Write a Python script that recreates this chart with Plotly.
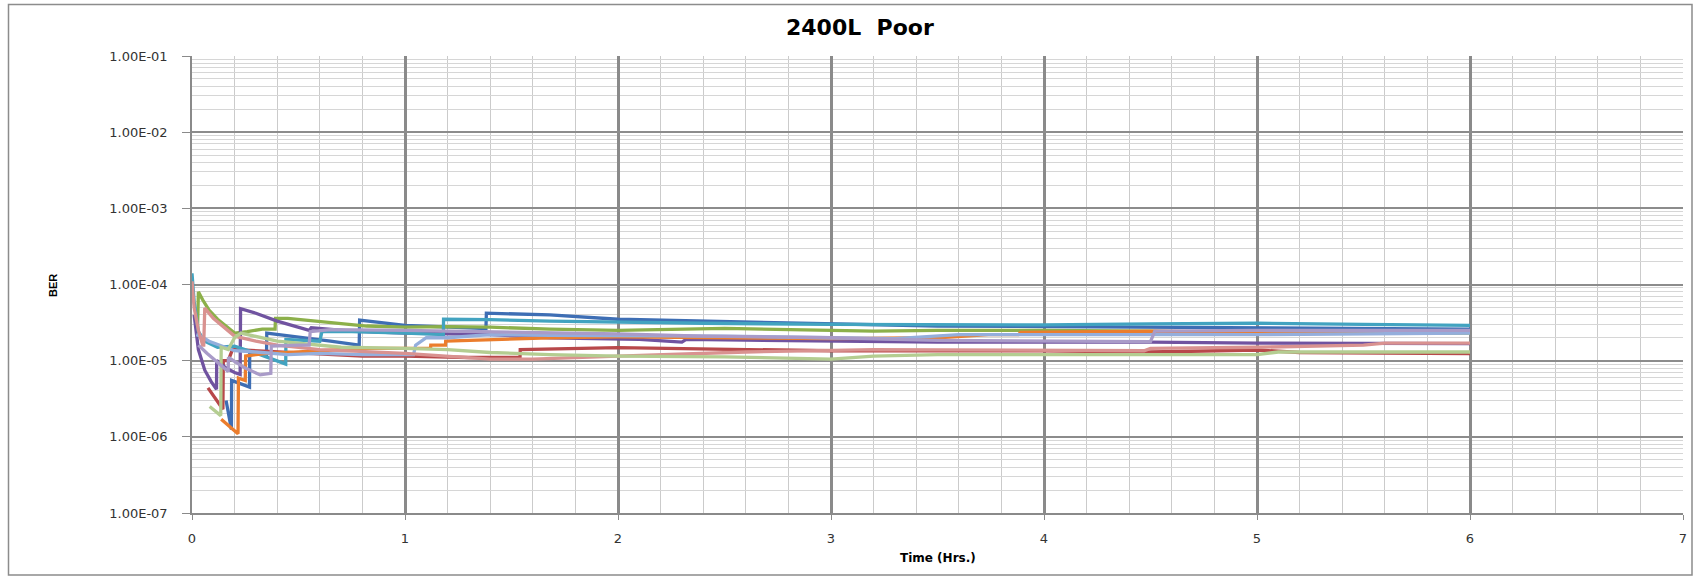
import plotly.graph_objects as go

# ---------------- data ----------------
title_text = "2400L\u00a0 Poor"
x_title = "Time (Hrs.)"
y_title = "BER"
y_tick_vals = [1e-7, 1e-6, 1e-5, 1e-4, 1e-3, 1e-2, 1e-1]
y_tick_text = ["1.00E-07", "1.00E-06", "1.00E-05", "1.00E-04", "1.00E-03", "1.00E-02", "1.00E-01"]
x_tick_vals = [0, 1, 2, 3, 4, 5, 6, 7]

blue_t = [0.16, 0.185, 0.186, 0.2, 0.27, 0.271, 0.35, 0.351, 0.5, 0.65, 0.785, 0.787, 1.0, 1.2, 1.38, 1.382, 1.5, 1.68, 2.0, 2.4, 3.0, 3.5, 4.0, 4.5, 5.0, 5.5, 6.0]
blue_ber = [3.0e-6, 1.25e-6, 5.5e-6, 5.3e-6, 4.5e-6, 1.25e-5, 1.2e-5, 2.3e-5, 2.05e-5, 1.8e-5, 1.6e-5, 3.4e-5, 2.9e-5, 2.8e-5, 2.65e-5, 4.2e-5, 4.1e-5, 4.0e-5, 3.5e-5, 3.3e-5, 3.0e-5, 2.85e-5, 2.8e-5, 2.75e-5, 2.7e-5, 2.65e-5, 2.6e-5]

red_t = [0.075, 0.12, 0.145, 0.147, 0.17, 0.19, 0.3, 0.5, 0.8, 1.0, 1.3, 1.54, 1.541, 2.0, 2.5, 3.0, 4.0, 4.5, 5.0, 5.2, 6.0]
red_ber = [4.4e-6, 2.9e-6, 2.3e-6, 1.0e-5, 1.0e-5, 1.4e-5, 1.35e-5, 1.25e-5, 1.15e-5, 1.15e-5, 1.1e-5, 1.1e-5, 1.4e-5, 1.48e-5, 1.4e-5, 1.35e-5, 1.35e-5, 1.3e-5, 1.38e-5, 1.28e-5, 1.24e-5]

green_t = [0.025, 0.03, 0.05, 0.08, 0.12, 0.2, 0.26, 0.33, 0.39, 0.392, 0.45, 0.55, 0.65, 0.82, 1.0, 1.2, 1.4, 1.68, 2.0, 2.5, 3.2, 3.5, 4.0, 4.5, 5.0, 6.0]
green_ber = [2.0e-5, 8.0e-5, 6.3e-5, 4.6e-5, 3.5e-5, 2.3e-5, 2.4e-5, 2.6e-5, 2.6e-5, 3.6e-5, 3.6e-5, 3.4e-5, 3.2e-5, 2.85e-5, 2.75e-5, 2.8e-5, 2.75e-5, 2.6e-5, 2.5e-5, 2.65e-5, 2.45e-5, 2.5e-5, 2.5e-5, 2.45e-5, 2.3e-5, 2.3e-5]

purple_t = [0.01, 0.03, 0.06, 0.09, 0.115, 0.116, 0.16, 0.2, 0.226, 0.228, 0.3, 0.4, 0.55, 0.56, 0.75, 1.0, 1.4, 1.68, 2.1, 2.3, 2.32, 3.0, 3.5, 4.0, 4.5, 5.0, 6.0]
purple_ber = [4.0e-5, 1.4e-5, 7.5e-6, 5.3e-6, 4.2e-6, 1.0e-5, 8.0e-6, 7.0e-6, 6.6e-6, 4.8e-5, 4.2e-5, 3.3e-5, 2.5e-5, 2.7e-5, 2.45e-5, 2.3e-5, 2.2e-5, 2.0e-5, 1.9e-5, 1.75e-5, 1.9e-5, 1.8e-5, 1.75e-5, 1.75e-5, 1.75e-5, 1.7e-5, 1.67e-5]

teal_t = [0.0, 0.01, 0.03, 0.06, 0.12, 0.2, 0.32, 0.44, 0.441, 0.6, 0.61, 0.75, 1.0, 1.18, 1.181, 1.4, 1.68, 2.0, 2.4, 3.0, 3.5, 4.0, 4.5, 5.0, 5.5, 6.0]
teal_ber = [1.4e-4, 6.0e-5, 2.4e-5, 1.8e-5, 1.5e-5, 1.55e-5, 1.2e-5, 9.0e-6, 1.9e-5, 1.8e-5, 2.4e-5, 2.4e-5, 2.3e-5, 2.2e-5, 3.5e-5, 3.45e-5, 3.3e-5, 3.2e-5, 3.1e-5, 3.0e-5, 2.95e-5, 2.95e-5, 3.05e-5, 3.1e-5, 3.0e-5, 2.9e-5]

orange_t = [0.137, 0.216, 0.218, 0.25, 0.252, 0.35, 0.5, 0.8, 1.0, 1.12, 1.121, 1.19, 1.191, 1.4, 1.68, 2.0, 2.5, 3.0, 3.5, 3.74, 3.88, 3.89, 4.5, 5.0, 5.5, 6.0]
orange_ber = [1.7e-6, 1.1e-6, 5.9e-6, 5.5e-6, 1.15e-5, 1.25e-5, 1.3e-5, 1.45e-5, 1.45e-5, 1.45e-5, 1.6e-5, 1.6e-5, 1.8e-5, 1.9e-5, 2.0e-5, 2.05e-5, 2.0e-5, 1.95e-5, 2.0e-5, 2.2e-5, 2.2e-5, 2.35e-5, 2.45e-5, 2.35e-5, 2.4e-5, 2.45e-5]

ltblue_t = [0.02, 0.04, 0.08, 0.13, 0.2, 0.3, 0.45, 0.6, 0.8, 1.0, 1.04, 1.05, 1.1, 1.2, 1.4, 1.68, 2.0, 2.5, 3.0, 3.3, 3.6, 4.5, 5.0, 6.0]
ltblue_ber = [2.2e-5, 2.1e-5, 1.8e-5, 1.6e-5, 1.35e-5, 1.3e-5, 1.2e-5, 1.25e-5, 1.2e-5, 1.2e-5, 1.2e-5, 1.6e-5, 2.0e-5, 2.0e-5, 2.2e-5, 2.15e-5, 2.15e-5, 2.1e-5, 2.0e-5, 1.95e-5, 2.2e-5, 2.2e-5, 2.2e-5, 2.3e-5]

pink_t = [0.0, 0.01, 0.03, 0.05, 0.055, 0.06, 0.1, 0.2, 0.3, 0.4, 0.6, 1.0, 1.4, 1.6, 2.0, 2.4, 2.6, 3.2, 4.0, 4.47, 4.5, 5.0, 5.5, 5.6, 6.0]
pink_ber = [1.1e-4, 5.0e-5, 2.5e-5, 1.6e-5, 1.6e-5, 4.9e-5, 3.6e-5, 2.1e-5, 1.8e-5, 1.6e-5, 1.4e-5, 1.25e-5, 1.05e-5, 1.05e-5, 1.15e-5, 1.25e-5, 1.3e-5, 1.4e-5, 1.35e-5, 1.35e-5, 1.45e-5, 1.5e-5, 1.6e-5, 1.7e-5, 1.7e-5]

ltgreen_t = [0.083, 0.135, 0.137, 0.17, 0.2, 0.23, 0.4, 0.7, 1.0, 1.2, 1.4, 1.68, 2.0, 2.5, 3.0, 3.2, 3.5, 4.5, 5.0, 5.1, 6.0]
ltgreen_ber = [2.5e-6, 1.9e-6, 1.5e-5, 1.4e-5, 2.0e-5, 2.3e-5, 1.8e-5, 1.5e-5, 1.45e-5, 1.4e-5, 1.28e-5, 1.2e-5, 1.15e-5, 1.12e-5, 1.05e-5, 1.15e-5, 1.2e-5, 1.2e-5, 1.2e-5, 1.3e-5, 1.3e-5]

ltpurple_t = [0.03, 0.07, 0.17, 0.171, 0.25, 0.32, 0.37, 0.372, 0.5, 0.55, 0.555, 0.65, 1.0, 1.4, 1.68, 2.0, 2.4, 3.0, 3.5, 4.0, 4.5, 4.52, 5.0, 6.0]
ltpurple_ber = [1.6e-5, 1.25e-5, 7.2e-6, 1.1e-5, 8.0e-6, 6.5e-6, 6.8e-6, 1.55e-5, 1.6e-5, 1.6e-5, 2.4e-5, 2.55e-5, 2.5e-5, 2.4e-5, 2.3e-5, 2.25e-5, 2.1e-5, 2.0e-5, 1.85e-5, 1.8e-5, 1.78e-5, 2.45e-5, 2.5e-5, 2.5e-5]

series = [
    (blue_t, blue_ber, "#3E6EB4"),
    (red_t, red_ber, "#B8484A"),
    (green_t, green_ber, "#8CB04A"),
    (purple_t, purple_ber, "#7053A0"),
    (teal_t, teal_ber, "#42A3C0"),
    (orange_t, orange_ber, "#EB7D2D"),
    (ltblue_t, ltblue_ber, "#94AEDC"),
    (pink_t, pink_ber, "#D99290"),
    (ltgreen_t, ltgreen_ber, "#B4CD91"),
    (ltpurple_t, ltpurple_ber, "#A99BC8"),
]

# ---------------- figure ----------------
fig = go.Figure()
for t, b, c in series:
    fig.add_trace(go.Scatter(x=t, y=b, mode="lines",
                             line=dict(color=c, width=3.3),
                             showlegend=False, hoverinfo="skip"))

W, H = 1699, 576
L, R, T, B = 192, 16, 56, 63
pw, ph = W - L - R, H - T - B

def px_x(p):
    return (p - L) / pw

def px_y(p):
    return (H - B - p) / ph

tick_font = dict(family="DejaVu Sans", size=13, color="#333333")
minor_y = [k * 10.0 ** e for e in range(-7, -1) for k in range(2, 10)]

fig.update_layout(
    width=W, height=H,
    margin=dict(l=L, r=R, t=T, b=B),
    paper_bgcolor="white", plot_bgcolor="white",
    xaxis=dict(
        range=[0, 7], tickvals=x_tick_vals, showgrid=True,
        gridcolor="#8a8a8a", gridwidth=3,
        minor=dict(dtick=0.2, tick0=0, showgrid=True, gridcolor="#cbcbcb", gridwidth=1.3, ticks=""),
        showline=True, linecolor="#8a8a8a", linewidth=1.5,
        ticks="outside", ticklen=5, tickcolor="#8a8a8a",
        tickfont=tick_font, ticklabelstandoff=8, zeroline=False,
    ),
    yaxis=dict(
        type="log", range=[-7, -1], tickvals=y_tick_vals, ticktext=y_tick_text,
        showgrid=True, gridcolor="#8c8c8c", gridwidth=2,
        minor=dict(tickvals=minor_y, showgrid=True, gridcolor="#d6d6d6", gridwidth=1, ticks=""),
        showline=True, linecolor="#8a8a8a", linewidth=1.5,
        ticks="outside", ticklen=8, tickcolor="#8a8a8a",
        tickfont=tick_font, ticklabelstandoff=12, zeroline=False,
    ),
    shapes=[dict(type="rect", xref="paper", yref="paper",
                 x0=px_x(8.5), x1=px_x(1692), y0=px_y(575), y1=px_y(4.5),
                 line=dict(color="#8c8c8c", width=1.5), layer="below")],
    annotations=[
        dict(text="<b>" + title_text + "</b>", xref="paper", yref="paper",
             x=px_x(860), y=px_y(27), xanchor="center", yanchor="middle",
             showarrow=False, font=dict(family="DejaVu Sans", size=22, color="#000000")),
        dict(text="<b>" + x_title + "</b>", xref="paper", yref="paper",
             x=0.5, y=px_y(558), xanchor="center", yanchor="middle",
             showarrow=False, font=dict(family="DejaVu Sans", size=12, color="#000000")),
        dict(text="<b>" + y_title + "</b>", xref="paper", yref="paper",
             x=px_x(53), y=px_y(286), xanchor="center", yanchor="middle", textangle=-90,
             showarrow=False, font=dict(family="Liberation Sans Narrow, Liberation Sans", size=11, color="#000000")),
    ],
)

fig.write_html("out.html", config={"displayModeBar": False},
               post_script="document.body.style.margin='0';document.body.style.overflow='hidden';")
